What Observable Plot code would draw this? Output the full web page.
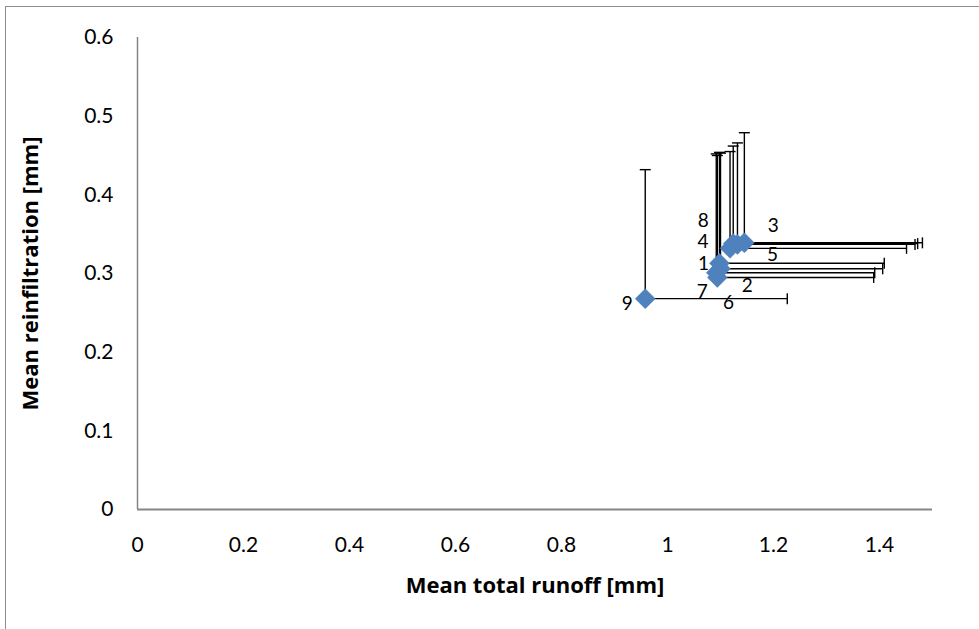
<!DOCTYPE html>
<html>
<head>
<meta charset="utf-8">
<script src="https://cdn.jsdelivr.net/npm/d3@7"></script>
<script src="https://cdn.jsdelivr.net/npm/@observablehq/plot@0.6"></script>
<style>
  html, body { margin: 0; padding: 0; background: #fff; }
  #wrap { position: relative; width: 979px; height: 629px; overflow: hidden; }
  #border { position: absolute; left: 5px; top: 6px; width: 1200px; height: 900px;
            border: 1.5px solid #8c8c8c; pointer-events: none; }
</style>
</head>
<body>
<div id="wrap"><div id="border"></div></div>
<script>
// ---- data ----
const pointLabels   = ["1", "2", "3", "4", "5", "6", "7", "8", "9"];
const meanRunoff    = [1.098, 1.094, 1.145, 1.118, 1.132, 1.100, 1.092, 1.124, 0.958];
const meanReinf     = [0.313, 0.295, 0.339, 0.332, 0.337, 0.306, 0.301, 0.338, 0.268];
const runoffErrPlus = [0.311, 0.295, 0.336, 0.333, 0.335, 0.306, 0.299, 0.348, 0.268];
const reinfErrPlus  = [0.141, 0.155, 0.140, 0.123, 0.129, 0.147, 0.151, 0.124, 0.164];
const xTicks = [0, 0.2, 0.4, 0.6, 0.8, 1, 1.2, 1.4];
const yTicks = [0, 0.1, 0.2, 0.3, 0.4, 0.5, 0.6];

const rows = pointLabels.map((label, i) => ({
  label,
  x: meanRunoff[i],
  y: meanReinf[i],
  xEnd: meanRunoff[i] + runoffErrPlus[i],
  yEnd: meanReinf[i] + reinfErrPlus[i]
}));

// label placement (pixel offsets, styling only)
const labelOffsets = {
  "1": [-16, 1], "2": [30, 8], "3": [29, -17], "4": [-27, -6], "5": [35, 11],
  "6": [8, 34], "7": [-14, 19], "8": [-30, -23], "9": [-18, 5]
};

const capV = { draw(ctx) { ctx.moveTo(0, -5.5); ctx.lineTo(0, 5.5); } };
const capH = { draw(ctx) { ctx.moveTo(-5.5, 0); ctx.lineTo(5.5, 0); } };
const diamond = { draw(ctx) { ctx.moveTo(0, -10); ctx.lineTo(10, 0); ctx.lineTo(0, 10); ctx.lineTo(-10, 0); ctx.closePath(); } };

const labelMarks = rows.map(r => Plot.text([r], {
  x: "x", y: "y", text: "label",
  dx: labelOffsets[r.label][0], dy: labelOffsets[r.label][1],
  fontSize: 19, fill: "#000", textAnchor: "middle", lineAnchor: "middle"
}));

const chart = Plot.plot({
  width: 979,
  height: 629,
  marginLeft: 137,
  marginRight: 47,
  marginTop: 37,
  marginBottom: 120,
  style: { fontFamily: "Lato, 'Open Sans', sans-serif", fontSize: "21px", background: "transparent", color: "#000" },
  x: { domain: [0, 1.5], ticks: xTicks, tickSize: 0, tickPadding: 28, label: null, tickFormat: d => String(d) },
  y: { domain: [0, 0.6], ticks: yTicks, tickSize: 0, tickPadding: 24, label: null, tickFormat: d => String(d) },
  marks: [
    Plot.ruleY([0], { stroke: "#868686", strokeWidth: 2 }),
    Plot.ruleX([0], { stroke: "#868686", strokeWidth: 1.5 }),
    // error bars (plus direction only)
    Plot.link(rows, { x1: "x", y1: "y", x2: "xEnd", y2: "y", stroke: "#000", strokeWidth: 1.4 }),
    Plot.link(rows, { x1: "x", y1: "y", x2: "x", y2: "yEnd", stroke: "#000", strokeWidth: 1.4 }),
    Plot.dot(rows, { x: "xEnd", y: "y", symbol: capV, stroke: "#000", strokeWidth: 1.4, fill: "none" }),
    Plot.dot(rows, { x: "x", y: "yEnd", symbol: capH, stroke: "#000", strokeWidth: 1.4, fill: "none" }),
    // markers
    Plot.dot(rows, { x: "x", y: "y", symbol: diamond, fill: "#4F81BD", stroke: "#4F81BD", strokeWidth: 0.5 }),
    ...labelMarks,
    // axis titles
    Plot.text(["Mean total runoff [mm]"], { frameAnchor: "bottom", dy: 76, fontFamily: "'Open Sans', sans-serif", fontWeight: "bold", fontSize: 22, textAnchor: "middle", lineAnchor: "middle", fill: "#000" }),
    Plot.text(["Mean reinfiltration [mm]"], { frameAnchor: "left", dx: -107, rotate: -90, fontFamily: "'Open Sans', sans-serif", fontWeight: "bold", fontSize: 22, textAnchor: "middle", lineAnchor: "middle", fill: "#000" })
  ]
});
document.getElementById("wrap").prepend(chart);
</script>
</body>
</html>
